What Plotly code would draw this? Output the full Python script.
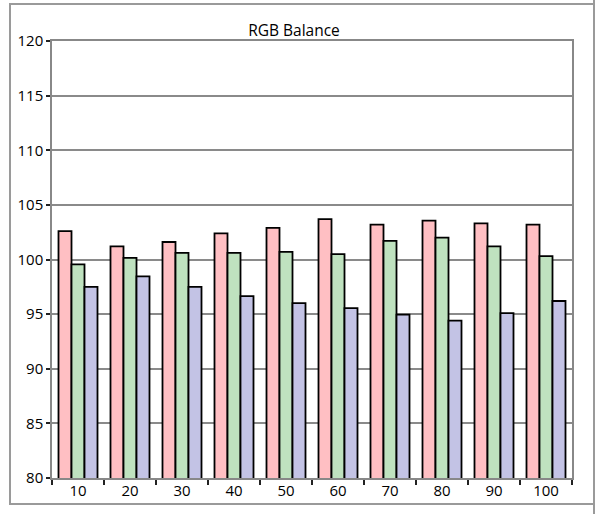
import plotly.graph_objects as go

categories = ["10", "20", "30", "40", "50", "60", "70", "80", "90", "100"]
red_vals = [102.6, 101.2, 101.6, 102.4, 102.9, 103.7, 103.2, 103.55, 103.3, 103.2]
green_vals = [99.55, 100.15, 100.6, 100.6, 100.7, 100.5, 101.7, 102.0, 101.2, 100.3]
blue_vals = [97.5, 98.45, 97.5, 96.65, 96.0, 95.55, 94.95, 94.4, 95.1, 96.2]
y_ticks = [80, 85, 90, 95, 100, 105, 110, 115, 120]

W, H = 600, 514
L, R, T, B = 52, 572, 41, 478  # plot area pixels

def px(x):
    return (x - L) / (R - L)

def py(y):
    return (B - y) / (B - T)

fig = go.Figure()
line = dict(color="black", width=1.8)
fig.add_trace(go.Bar(x=categories, y=red_vals, marker=dict(color="#FFBFC3", line=line), name="Red"))
fig.add_trace(go.Bar(x=categories, y=green_vals, marker=dict(color="#BFE2BF", line=line), name="Green"))
fig.add_trace(go.Bar(x=categories, y=blue_vals, marker=dict(color="#C3C3E5", line=line), name="Blue"))

font = dict(family="Open Sans", size=15, color="black")

fig.update_layout(
    width=W, height=H,
    margin=dict(l=L, r=W - R, t=T, b=H - B, pad=0),
    paper_bgcolor="white", plot_bgcolor="white",
    barmode="group", bargap=0.25, bargroupgap=0,
    showlegend=False,
    font=font,
    title=dict(text="RGB Balance", x=(294 / W), xanchor="center",
               y=1 - 30.5 / H, yanchor="middle",
               font=dict(family="Open Sans", size=15.5, color="black")),
    xaxis=dict(type="category", tickson="boundaries", ticks="outside", ticklen=5,
               tickwidth=1.5, tickcolor="#222", showline=True, linecolor="#888",
               linewidth=1.5, mirror=True, showgrid=False, tickfont=font,
               ticklabelstandoff=-2),
    yaxis=dict(range=[80, 120], tickvals=y_ticks, ticks="outside", ticklen=4,
               tickwidth=1.5, tickcolor="#222", showline=True, linecolor="#888",
               linewidth=1.5, mirror=True, showgrid=True, gridcolor="#8a8a8a",
               gridwidth=1.5, tickfont=font, zeroline=False),
    shapes=[
        dict(type="rect", xref="paper", yref="paper",
             x0=px(10), x1=px(594), y0=py(504), y1=py(4),
             line=dict(color="#9a9a9a", width=2), fillcolor="rgba(0,0,0,0)", layer="below"),
        dict(type="line", xref="paper", yref="paper",
             x0=px(594), x1=px(594), y0=py(514), y1=py(0),
             line=dict(color="#9a9a9a", width=2)),
    ],
)

fig.write_html("out.html")
